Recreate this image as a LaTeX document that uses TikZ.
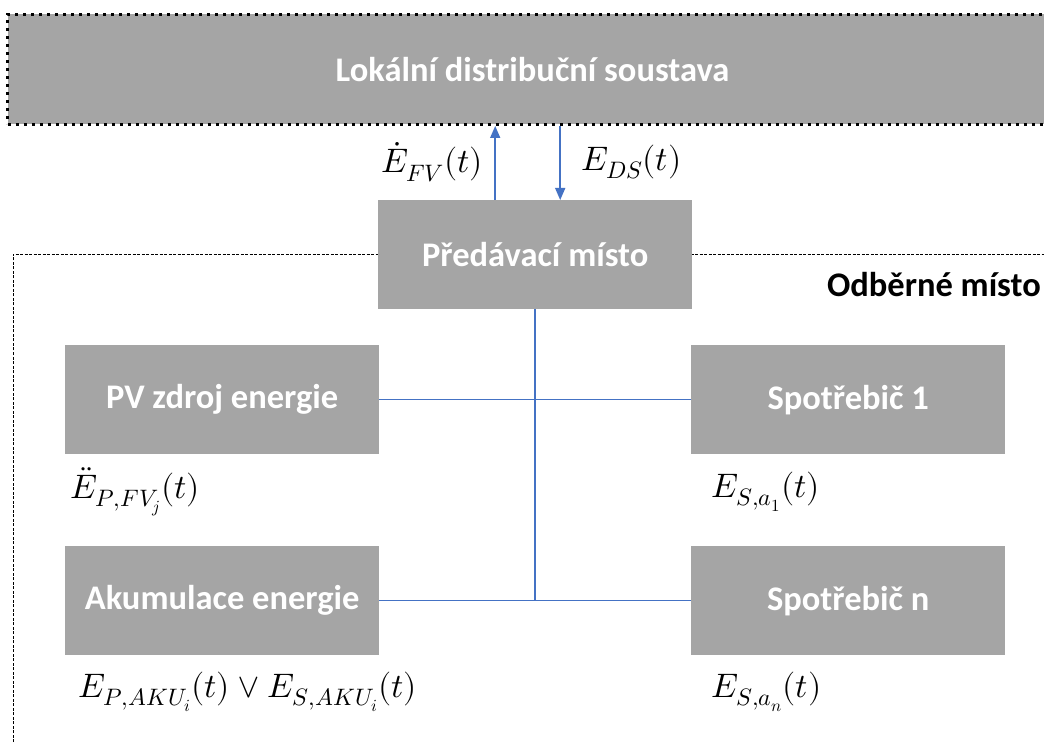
\documentclass[tikz,border=0pt]{standalone}
\usepackage{fontspec}
\usepackage{unicode-math}
\setmainfont{Carlito}
\setmathfont{Latin Modern Math}
\usetikzlibrary{arrows.meta}
\definecolor{boxgray}{HTML}{A5A5A5}
\definecolor{linkblue}{HTML}{4472C4}
\begin{document}
\begin{tikzpicture}[x=1pt,y=-1pt,
  block/.style={fill=boxgray, text=white, font=\fontsize{34.5}{38}\selectfont\bfseries,
    minimum width=314pt, minimum height=109pt, inner sep=0pt, anchor=north west},
  flow/.style={draw=linkblue, line width=1.5pt},
  flowarrow/.style={flow, -{Triangle[length=12pt,width=10pt]}},
  qty/.style={font=\fontsize{34}{38}\selectfont, anchor=west, inner sep=0pt}
]
\useasboundingbox (0,0) rectangle (1044,743);
\clip (0,0) rectangle (1044,743);
\fill[white] (0,0) rectangle (1044,743);

% customer site boundary
\draw[line width=0.9pt, dash pattern=on 3pt off 1.5pt] (13,760) -- (13,254) -- (1060,254);
\node[font=\fontsize{34.5}{38}\selectfont\bfseries, anchor=east, inner sep=0pt] (site) at (1041,285) {Odběrné místo};

% local distribution system
\node[block, minimum width=1050pt, minimum height=110pt,
  draw=black, line width=3pt, dash pattern=on 3pt off 5pt] (lds) at (6,13) {Lokální distribuční soustava};

% blocks
\node[block] (pred) at (378,200) {Předávací místo};
\node[block] (pv) at (65,345) {PV zdroj energie};
\node[block] (sp1) at (691,345) {Spotřebič 1};
\node[block] (aku) at (65,546) {Akumulace energie};
\node[block] (spn) at (691,546) {Spotřebič n};

% exchange with the distribution system
\draw[flowarrow] ([xshift=-40pt]pred.north) -- ([xshift=-40pt]pred.north |- lds.south);
\draw[flowarrow] ([xshift=25pt]pred.north |- lds.south) -- ([xshift=25pt]pred.north);

% internal bus
\draw[flow] (pred.south) -- (pred.south |- aku.east);
\draw[flow] (pv.east) -- (sp1.west);
\draw[flow] (aku.east) -- (spn.west);

% quantities
\node[qty] (efv) at (381,162) {$\dot{E}_{FV}(t)$};
\node[qty] (eds) at (581,162) {$E_{DS}(t)$};
\node[qty] (epv) at (70,492) {$\ddot{E}_{P,FV_j}(t)$};
\node[qty] (es1) at (711,492) {$E_{S,a_1}(t)$};
\node[qty] (eaku) at (78,692) {$E_{P,AKU_i}(t)\vee E_{S,AKU_i}(t)$};
\node[qty] (esn) at (711,692) {$E_{S,a_n}(t)$};
\end{tikzpicture}
\end{document}
